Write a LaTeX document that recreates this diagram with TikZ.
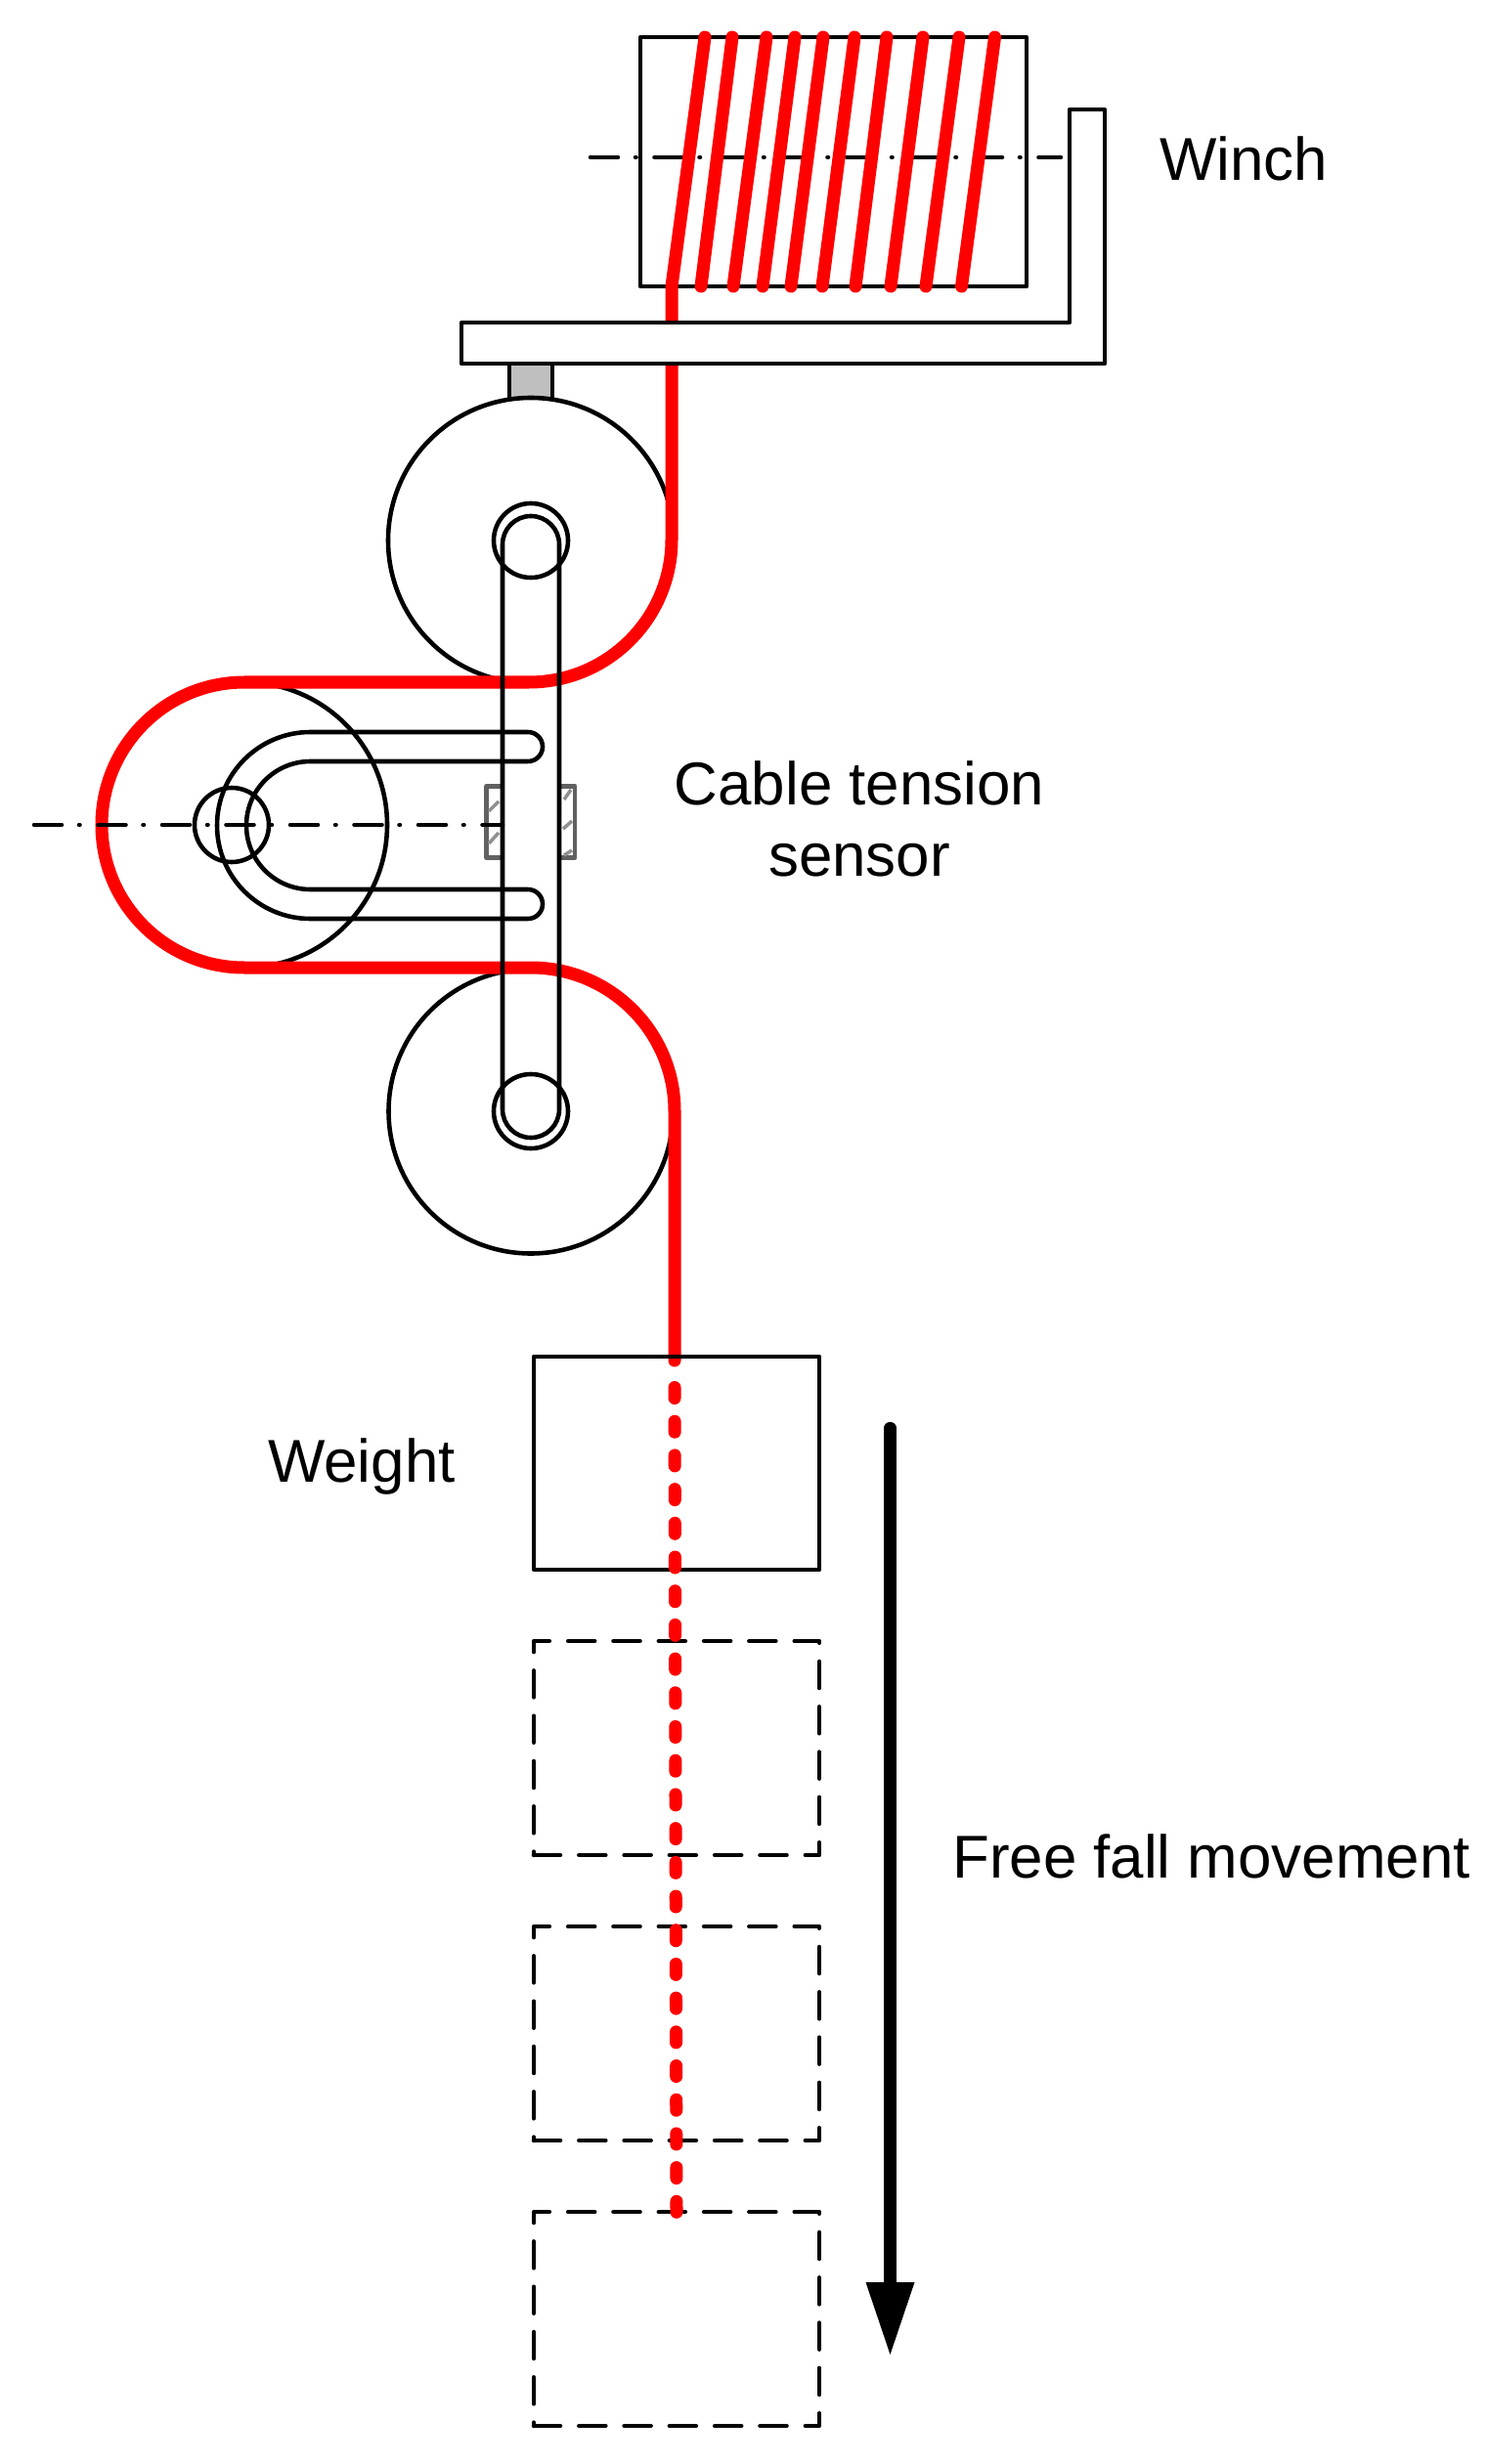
\documentclass[tikz,border=0pt]{standalone}
\usepackage{fontspec}
\setmainfont{Liberation Sans}
\usetikzlibrary{arrows.meta}
\definecolor{cablered}{rgb}{1.0, 0.0, 0.0}
\definecolor{stemgray}{rgb}{0.75, 0.75, 0.75}
\definecolor{sensorgray}{rgb}{0.38, 0.38, 0.38}
\tikzset{
	part/.style={line width=1.3pt,black,join=round},
	cable/.style={line width=3.7pt,cablered,line cap=round,join=round},
	axisline/.style={line width=1.3pt,line cap=round,dash pattern=on 0.28cm off 0.18cm on 0.005cm off 0.19cm},
	ghost/.style={line width=1.3pt,line cap=round,join=round,dash pattern=on 0.27cm off 0.193cm},
	pad/.style={line width=1.4pt,sensorgray,join=round},
	hatch/.style={line width=1pt,sensorgray!70},
	label/.style={font=\fontsize{17.6}{20.6}\selectfont,align=center,inner sep=0pt}
}

\begin{document}
\begin{tikzpicture}
		\useasboundingbox (0,0) rectangle (15.22,-25.21);
		
		\coordinate (up) at (5.43,-5.53);
		\coordinate (low) at (5.43,-11.37);
		\coordinate (left) at (2.5,-8.44);
		
		\draw[part,fill=stemgray] (5.21,-3.72) rectangle (5.65,-4.2);
		\draw[part,fill=white] (up) circle (1.46);
		\draw[part,fill=white] (low) circle (1.455);
		\draw[part] (left) circle (1.46);
		\draw[part,fill=white] (6.55,-0.38) rectangle (10.5,-2.93);   % Drum
		\draw[part] (up) circle (0.38);
		\draw[part] (low) circle (0.38);
		\draw[part] (2.37,-8.44) circle (0.38);
		
		% Sensor pads
		\draw[pad] (4.975,-8.045) rectangle (5.14,-8.775);
		\draw[pad] (5.72,-8.045) rectangle (5.88,-8.775);
		\draw[hatch] (5.0,-8.3) -- (5.1,-8.2);
		\draw[hatch] (5.0,-8.63) -- (5.1,-8.52);
		\draw[hatch] (5.77,-8.18) -- (5.84,-8.08);
		\draw[hatch] (5.76,-8.48) -- (5.85,-8.4);
		\draw[hatch] (5.77,-8.75) -- (5.85,-8.7);
		
		\draw[axisline] (6.04,-1.61) -- (10.85,-1.61);
		
		% Cable with winding
		\foreach \xa/\xb in {7.17/7.49,7.50/7.84,7.80/8.13,8.09/8.42,8.41/8.74,8.75/9.07,9.11/9.44,9.47/9.81,9.835/10.175}
			\draw[cable] (\xa,-2.93) -- (\xb,-0.38);
		\draw[cable] (7.21,-0.38) -- (6.87,-2.93) -- (6.87,-5.52) arc (0:-90:1.46) -- (2.5,-6.98) arc (90:270:1.46) -- (5.43,-9.9) arc (90:0:1.47) -- (6.9,-13.92);
		
		\draw[part,fill=white] (4.72,-3.3) -- (10.94,-3.3) -- (10.94,-1.12) -- (11.3,-1.12) -- (11.3,-3.72) -- (4.72,-3.72) -- cycle;   % Bracket
		
		% Slotted arm
		\draw[part] (5.4,-7.49) -- (3.175,-7.49) arc (90:270:0.955) -- (5.4,-9.4) arc (-90:90:0.15) -- (3.175,-9.1) arc (270:90:0.655) -- (5.4,-7.79) arc (-90:90:0.15);
		
		% Link between the pulleys
		\draw[part] (5.14,-5.57) arc (180:0:0.29) -- (5.72,-11.35) arc (0:-180:0.29) -- cycle;
		
		\draw[axisline] (0.35,-8.44) -- (5.14,-8.44);
		
		% Weight and its later positions
		\draw[part] (5.46,-13.88) rectangle (8.38,-16.06);
		\foreach \y in {16.79,19.71,22.63}
			\draw[ghost] (5.46,-\y-2.19) -- (8.38,-\y-2.19) -- (8.38,-\y) -- (5.46,-\y) -- cycle;
		\draw[cable,dash pattern=on 0.11cm off 0.237cm] (6.9,-14.195) -- (6.92,-22.64);
		
		\draw[line width=3.5pt,line cap=round,-{Triangle[length=0.74cm,width=0.5cm,line width=0pt]}] (9.105,-14.61) -- (9.105,-24.09);
		
		\node[label] (winch) at (12.72,-1.62) {Winch};
		\node[label] (sensor) at (8.79,-8.38) {Cable tension\\sensor};
		\node[label] (weight) at (3.7,-15.0) {Weight};
		\node[label] (fall) at (12.39,-18.99) {Free fall movement};
		
	\end{tikzpicture}
\end{document}
